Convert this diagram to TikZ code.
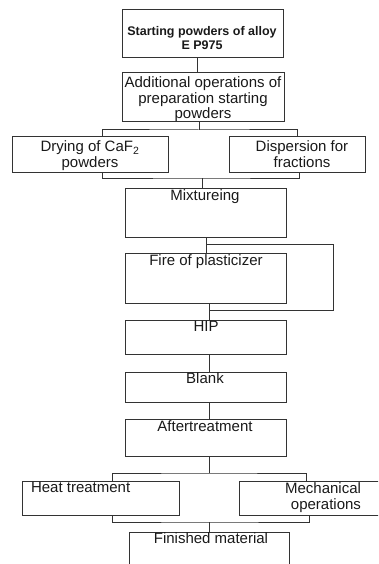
\documentclass[tikz,border=0pt]{standalone}
\usepackage{fontspec}
\setmainfont{Liberation Sans}
\usetikzlibrary{calc}
\begin{document}
\begin{tikzpicture}[x=1pt,y=-1pt,
  box/.style={draw=black!80,line width=1pt,inner sep=0pt,outer sep=0pt,anchor=north west,rectangle},
  txt/.style={inner sep=0pt,outer sep=0pt,align=center,font=\fontsize{15}{15.2}\selectfont,text=black!90},
  conn/.style={draw=black!80,line width=1pt}]
\useasboundingbox (0,0) rectangle (378,564);
\clip (0,0) rectangle (378,564);
% boxes
\node[box,minimum width=161pt,minimum height=48pt] (b1) at (122,10) {};
\node[box,minimum width=162pt,minimum height=49pt] (b2) at (122,73) {};
\node[box,minimum width=156pt,minimum height=35pt] (b3) at (12,137) {};
\node[box,minimum width=136pt,minimum height=35pt] (b4) at (229,137) {};
\node[box,minimum width=161pt,minimum height=49pt] (b5) at (125,188) {};
\node[box,minimum width=161pt,minimum height=50pt] (b6) at (125,253) {};
\node[box,minimum width=161pt,minimum height=34pt] (b7) at (125,320) {};
\node[box,minimum width=161pt,minimum height=30pt] (b8) at (125,372) {};
\node[box,minimum width=161pt,minimum height=37pt] (b9) at (125,419) {};
\node[box,minimum width=157pt,minimum height=34pt] (b10) at (22,481) {};
\node[box,minimum width=157pt,minimum height=34pt] (b11) at (239,481) {};
\node[box,minimum width=160pt,minimum height=48pt] (b12) at (129,532) {};
% texts
\node[txt,anchor=north,font=\bfseries\fontsize{12.5}{14}\selectfont] (t1) at (202,26) {Starting powders of alloy\\E P975};
\node[txt,anchor=north] (t2) at (203,77) {Additional operations of\\preparation starting\\powders};
\node[txt,anchor=north,font=\fontsize{15}{16}\selectfont] (t3) at (90,141) {Drying of CaF\textsubscript{2}\\powders};
\node[txt,anchor=north,font=\fontsize{15}{16}\selectfont] (t4) at (302,141) {Dispersion for\\fractions};
\node[txt,anchor=north] (t5) at (205,190) {Mixtureing};
\node[txt,anchor=north] (t6) at (206,255) {Fire of plasticizer};
\node[txt,anchor=north] (t7) at (206,321.5) {HIP};
\node[txt,anchor=north] (t8) at (205,373) {Blank};
\node[txt,anchor=north] (t9) at (205,421) {Aftertreatment};
\node[txt,anchor=north west,align=left] (t10) at (31,482.5) {Heat treatment};
\node[txt,anchor=north east,align=right,font=\fontsize{15}{15.7}\selectfont] (t11) at (361,482.5) {Mechanical\\operations};
\node[txt,anchor=north] (t12) at (211,533) {Finished material};
% junctions
\coordinate (j1) at (199,130);
\coordinate (j2) at (202,178);
\coordinate (j3) at (206,244);
\coordinate (r1) at (333,244);
\coordinate (r2) at (333,310);
\coordinate (j5) at (209,310);
\coordinate (j6) at (209,473);
\coordinate (j7) at (209,522);
% connectors
\draw[conn] ([xshift=-5.5pt]b1.south) -- ([xshift=-5.5pt]b1.south |- b2.north);
\draw[conn] (b2.south -| j1) -- (j1);
\draw[conn] ([xshift=12pt]b3.north) |- (j1) -| (b4.north);
\draw[conn] ([xshift=12pt]b3.south) |- (j2) -| ([xshift=2pt]b4.south);
\draw[conn] (j2) -- (j2 |- b5.north);
\draw[conn] (b5.south -| j3) -- (j3 |- b6.north);
\draw[conn] (j3) -- (r1) -- (r2) -- (j5);
\draw[conn] (b6.south -| j5) -- (b7.north -| j5);
\draw[conn] (b7.south -| j5) -- (b8.north -| j5);
\draw[conn] (b8.south -| j5) -- (b9.north -| j5);
\draw[conn] (b9.south -| j6) -- (j6);
\draw[conn] ([xshift=11.5pt]b10.north) |- (j6) -| ([xshift=-11.5pt]b11.north);
\draw[conn] ([xshift=11.5pt]b10.south) |- (j7) -| ([xshift=-8.5pt]b11.south);
\draw[conn] (j7) -- (j7 |- b12.north);
\end{tikzpicture}
\end{document}
